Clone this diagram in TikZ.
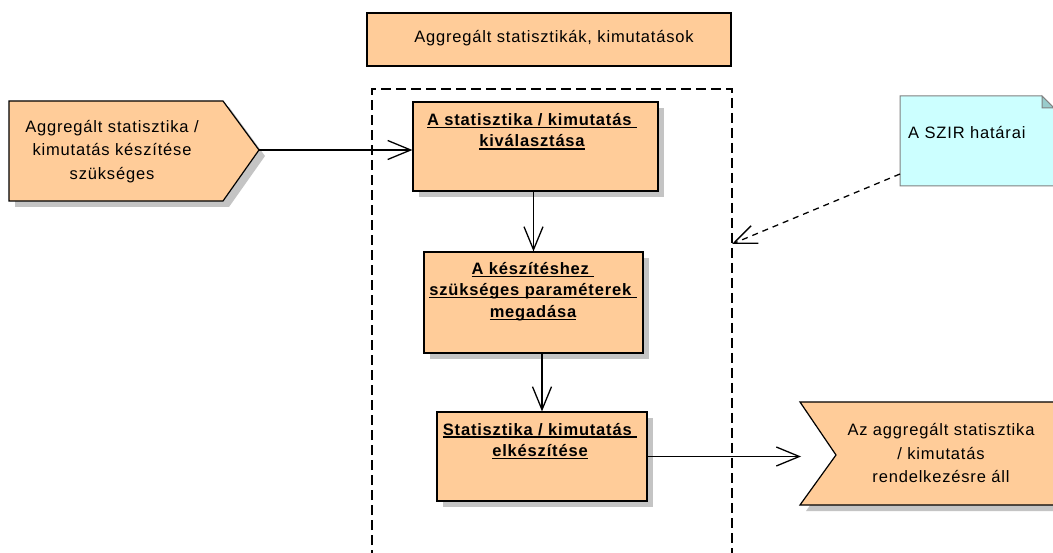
\documentclass[tikz,border=0pt]{standalone}
\usepackage{fontspec}
\setmainfont{Liberation Sans}[LetterSpace=5]
\usetikzlibrary{arrows.meta,shadows}
\definecolor{actfill}{HTML}{FFCC99}
\definecolor{notefill}{HTML}{CCFFFF}
\definecolor{notefold}{HTML}{99CCCC}
\definecolor{noteline}{HTML}{808080}
\definecolor{shadowgray}{HTML}{C4C4C4}
% underline with a fixed, heavier rule
\newcommand\ulbox[1]{\setbox0\hbox{#1}\rlap{\rule[-2.6pt]{\wd0}{1.3pt}}\box0}
\begin{document}
\begin{tikzpicture}[x=1pt,y=-1pt,
  shade/.style={drop shadow={shadow xshift=6pt,shadow yshift=-6pt,fill=shadowgray,opacity=1}},
  actbox/.style={draw=black,line width=1.2pt,fill=actfill,inner sep=0pt},
  plain/.style={font=\fontsize{16.5}{23.5}\selectfont,align=center,inner sep=0pt},
  acttext/.style={font=\bfseries\fontsize{16.5}{21.5}\selectfont,align=center,inner sep=0pt},
  flow/.style={line width=1.3pt,-{Straight Barb[length=23pt,width=19pt,line width=1.3pt]}},
  frame/.style={line width=1.3pt,dash pattern=on 10pt off 5pt}]
\clip (0,0) rectangle (1053,553);
\fill[white] (0,0) rectangle (1053,553);

% system boundary, open at the bottom
\draw[frame] (372,560) -- (372,89) -- (732,89) -- (732,560);
\coordinate (frameR) at (732,244);

% title box
\node[actbox,minimum width=364pt,minimum height=53pt] (title) at (549,39.5) {};
\node[plain] (titlet) at (554,38) {Aggregált statisztikák, kimutatások};

% incoming event
\path[draw=black,line width=1.2pt,fill=actfill,shade]
  (9,101) -- (223,101) -- (259,150) -- (223,201) -- (9,201) -- cycle;
\node[plain] (srct) at (112,151.5) {Aggregált statisztika /\\kimutatás készítése\\szükséges};
\coordinate (srctip) at (259,150);

% activities
\node[actbox,shade,minimum width=245pt,minimum height=89pt] (box1) at (535.5,146.5) {};
\node[acttext] (box1t) at (532,131.5) {\ulbox{A statisztika / kimutatás\ }\\\ulbox{kiválasztása}};

\node[actbox,shade,minimum width=219pt,minimum height=101pt] (box2) at (533.5,302.5) {};
\node[acttext] (box2t) at (533,291.5) {\ulbox{A készítéshez\ }\\\ulbox{szükséges paraméterek\ }\\\ulbox{megadása}};

\node[actbox,shade,minimum width=210pt,minimum height=89pt] (box3) at (542,456.5) {};
\node[acttext] (box3t) at (540,441) {\ulbox{Statisztika / kimutatás\ }\\\ulbox{elkészítése}};

% outgoing event
\path[draw=black,line width=1.2pt,fill=actfill,shade]
  (800,402) -- (1070,402) -- (1070,505) -- (800,505) -- (836,455) -- cycle;
\node[plain] (dstt) at (941,453.5) {Az aggregált statisztika\\/ kimutatás\\rendelkezésre áll};
\coordinate (dstin) at (801,456.5);

% note
\path[draw=noteline,fill=notefill,line width=1pt]
  (900,96) -- (1042,96) -- (1060,114) -- (1060,186) -- (900,186) -- cycle;
\path[draw=noteline,fill=notefold,line width=1pt]
  (1042,96) -- (1042,108) -- (1054,108) -- cycle;
\node[plain,anchor=west] (notet) at (908,133) {A SZIR határai};
\coordinate (notecorner) at (900,174);

% connectors
\draw[flow] (srctip) -- (srctip -| box1.west);
\draw[flow] (box1.south -| box2.north) -- (box2.north);
\draw[flow] (box2.south -| box3.north) -- (box3.north);
\draw[flow] (box3.east) -- (dstin);
\draw[flow,dash pattern=on 6pt off 5pt] (notecorner) -- (frameR);
\end{tikzpicture}
\end{document}
